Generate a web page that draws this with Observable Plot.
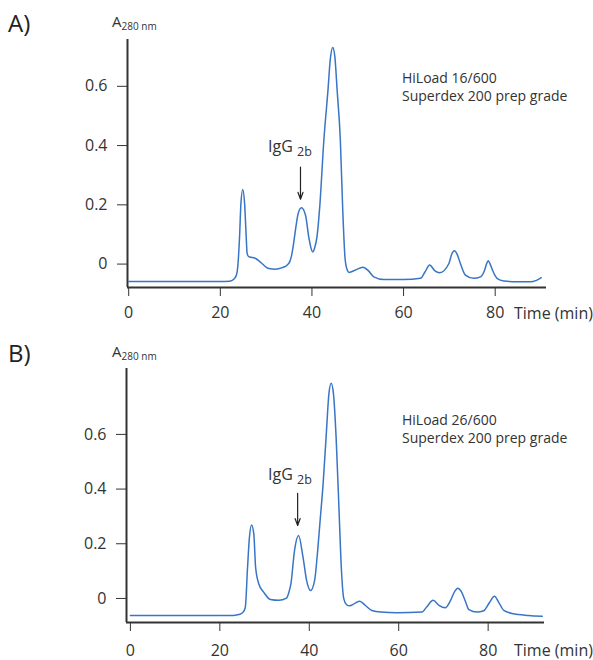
<!DOCTYPE html>
<html><head><meta charset="utf-8">
<script src="https://cdn.jsdelivr.net/npm/d3@7"></script>
<script src="https://cdn.jsdelivr.net/npm/@observablehq/plot@0.6"></script>
<style>
body{margin:0;background:#fff;}
#wrap{position:relative;width:593px;height:660px;overflow:hidden;}
.panel{position:absolute;left:0;}
</style></head><body><div id="wrap"></div>
<script>
// Panel A: HiLoad 16/600
const timeA = [0,20,22,23,23.5,23.8,24.2,24.5,24.9,25.3,25.65,25.85,26.2,27.0,27.7,28.5,29.1,30.0,30.6,32.0,33.5,34.6,35.2,35.5,36.0,36.4,37.0,37.7,38.6,39.3,39.7,40.2,40.6,41.1,41.7,42.6,43.5,44.0,44.55,45.0,45.5,46.2,46.7,47.2,47.6,48.1,49.5,51.1,52.3,53.5,55.7,60,63.7,64.7,65.7,66.8,67.9,69.9,70.5,71.1,71.7,72.4,73.5,75.3,76.8,77.7,78.1,78.5,78.9,79.4,80.4,81.9,85,87.7,89,90.05];
const absA  = [-0.059,-0.059,-0.058,-0.050,-0.038,-0.010,0.092,0.205,0.252,0.205,0.092,0.036,0.025,0.022,0.019,0.010,0.002,-0.010,-0.015,-0.017,-0.012,-0.003,0.010,0.025,0.070,0.115,0.171,0.190,0.165,0.092,0.060,0.041,0.055,0.092,0.193,0.418,0.587,0.690,0.731,0.700,0.587,0.418,0.193,0.025,-0.015,-0.028,-0.020,-0.011,-0.022,-0.043,-0.052,-0.052,-0.048,-0.026,-0.003,-0.022,-0.029,0.002,0.033,0.045,0.033,0.002,-0.037,-0.048,-0.043,-0.020,0.000,0.011,0.000,-0.020,-0.048,-0.057,-0.060,-0.060,-0.055,-0.046];
// Panel B: HiLoad 26/600
const timeB = [0,23,24.5,25.3,25.7,26.2,26.6,27.1,27.6,28.0,28.7,29.8,31.3,33.2,34.9,35.4,35.9,36.7,37.6,38.6,39.4,40.3,41.2,41.8,42.4,43.1,43.8,44.4,44.9,45.4,46.0,46.6,47.2,47.7,48.3,49.0,50.2,51.3,52.5,54.0,56,59.6,65.2,66.3,67.7,69.0,70.4,71.5,72.5,73.2,74.0,74.9,75.7,77.5,79.0,80.3,81.4,82.4,83.5,85.7,89,92.1];
const absB  = [-0.062,-0.062,-0.058,-0.048,-0.032,0.114,0.220,0.269,0.236,0.114,0.054,0.023,-0.004,-0.007,0.001,0.020,0.054,0.175,0.230,0.151,0.066,0.029,0.066,0.160,0.280,0.420,0.600,0.750,0.787,0.750,0.590,0.346,0.102,0.000,-0.022,-0.027,-0.018,-0.010,-0.025,-0.044,-0.050,-0.052,-0.050,-0.030,-0.007,-0.025,-0.034,-0.010,0.025,0.037,0.025,-0.010,-0.041,-0.050,-0.045,-0.015,0.008,-0.015,-0.044,-0.056,-0.062,-0.065];

const xTicks = [0,20,40,60,80];
const yTicks = [0,0.2,0.4,0.6];
const panelLabels = ["A)","B)"];
const columnNames = ["HiLoad 16/600","HiLoad 26/600"];
const mediumName = "Superdex 200 prep grade";
const peakLabel = "IgG";
const peakSub = "2b";
const peakTime = [37.5, 37.4];
const xLabel = "Time (min)";

const FONT = "Open Sans, Noto Sans, sans-serif";
const INK = "#333";
const BLUE = "#3875c5";

const cfgs = [
  {t:timeA, a:absA, top:0, ml:127, mr:47, mt:39, mb:43, xd:[-0.26,91.2], yd:[-0.079,0.758], xpad:10,
   arrow:[0.327,0.219], label:panelLabels[0], name:columnNames[0],
   lab:{py:32, ay:27, nameY:83, medY:101, igY:151.5, subX:297, subY:155.5, timeY:318.5}},
  {t:timeB, a:absB, top:330, ml:126, mr:49, mt:38, mb:38, xd:[-0.87,92.6], yd:[-0.088,0.841], xpad:13,
   arrow:[0.384,0.267], label:panelLabels[1], name:columnNames[1],
   lab:{py:32, ay:27, nameY:95, medY:113, igY:150, subX:297, subY:153.5, timeY:326}}
];

const wrap = document.getElementById("wrap");
cfgs.forEach((c, i) => {
  const data = c.t.map((t, k) => ({t, a: c.a[k]}));
  const svg = Plot.plot({
    width: 593, height: 330,
    marginLeft: c.ml, marginRight: c.mr, marginTop: c.mt, marginBottom: c.mb,
    style: {fontFamily: FONT, color: INK, background: "transparent", overflow: "visible"},
    x: {domain: c.xd},
    y: {domain: c.yd},
    marks: [
      Plot.axisX({ticks: xTicks, tickSize: 9, tickPadding: c.xpad, fontSize: 16, label: null, tickFormat: d => String(d), stroke: INK}),
      Plot.axisY({ticks: yTicks, tickSize: 10, tickPadding: 10, fontSize: 16, label: null, tickFormat: d => d === 0 ? "0" : d.toFixed(1), stroke: INK}),
      Plot.ruleX([c.xd[0]], {stroke: INK, strokeWidth: 2}),
      Plot.ruleY([c.yd[0]], {stroke: INK, strokeWidth: 2}),
      Plot.line(data, {x: "t", y: "a", stroke: BLUE, strokeWidth: 1.5, curve: "monotone-x"}),
      Plot.arrow([{x: peakTime[i], y1: c.arrow[0], y2: c.arrow[1]}], {x1: "x", x2: "x", y1: "y1", y2: "y2", stroke: "#222", strokeWidth: 1.2, headLength: 9, headAngle: 40})
    ]
  });
  const div = document.createElement("div");
  div.className = "panel";
  div.style.top = c.top + "px";
  div.appendChild(svg);
  wrap.appendChild(div);

  const s = d3.select(svg);
  const L = c.lab;
  const g = s.append("g").attr("font-family", FONT).attr("fill", INK).attr("text-anchor", "start");
  g.append("text").attr("x", 8).attr("y", L.py).attr("font-size", 24).attr("fill", "#222").text(c.label);
  const at = g.append("text").attr("x", 112).attr("y", L.ay).attr("font-size", 15);
  at.append("tspan").text("A");
  at.append("tspan").attr("font-size", 10).attr("dy", 3).text("280 nm");
  g.append("text").attr("x", 402).attr("y", L.nameY).attr("font-size", 14).text(c.name);
  g.append("text").attr("x", 402).attr("y", L.medY).attr("font-size", 14).text(mediumName);
  g.append("text").attr("x", 268).attr("y", L.igY).attr("font-size", 16).text(peakLabel);
  g.append("text").attr("x", L.subX).attr("y", L.subY).attr("font-size", 12.5).text(peakSub);
  g.append("text").attr("x", 514).attr("y", L.timeY).attr("font-size", 16).text(xLabel);
});
</script></body></html>
